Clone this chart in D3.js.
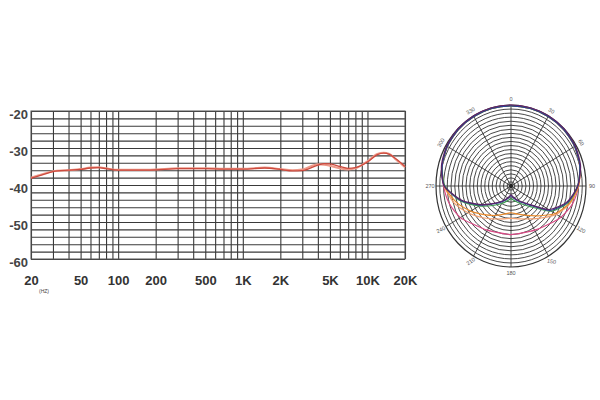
<!DOCTYPE html>
<html><head><meta charset="utf-8">
<script src="https://cdn.jsdelivr.net/npm/d3@7"></script>
<style>body{margin:0;background:#fff}svg{display:block}</style>
</head><body>
<svg id="c" width="600" height="400"></svg>
<script>
// ---- Frequency response data ----
const freqs = [20, 25, 30, 40, 50, 60, 70, 80, 100, 150, 200, 300, 500, 700, 1000, 1500, 2000, 2500, 3000, 4000, 4500, 5000, 6000, 7000, 8000, 10000, 12000, 13500, 15000, 17000, 20000];
const respA = [-38.2, -37.2, -36.4, -36.0, -35.8, -35.4, -35.3, -35.6, -36.0, -36.0, -35.9, -35.6, -35.6, -35.7, -35.7, -35.4, -35.8, -36.2, -36.1, -34.6, -34.2, -34.3, -35.0, -35.5, -35.3, -33.8, -31.8, -31.4, -31.7, -33.0, -35.0];
const respB = [-38.0, -37.0, -36.3, -36.0, -35.7, -35.3, -35.2, -35.5, -35.9, -35.9, -35.8, -35.5, -35.5, -35.6, -35.6, -35.3, -35.7, -36.0, -35.8, -34.4, -34.5, -34.8, -35.5, -35.8, -35.5, -33.6, -31.6, -31.3, -31.6, -33.2, -35.2];
const yTicks = [-20, -30, -40, -50, -60];
const xTicks = [20, 50, 100, 200, 500, 1000, 2000, 5000, 10000, 20000];
const xTickLabels = ["20", "50", "100", "200", "500", "1K", "2K", "5K", "10K", "20K"];
const xGrid = [20,30,40,50,60,70,80,90,100,200,300,400,500,600,700,800,900,1000,2000,3000,4000,5000,6000,7000,8000,9000,10000,20000];
const yGrid = d3.range(-60, -19, 2);

// ---- Polar pattern data (fraction of outer radius) ----
const polarAngles = [0,15,30,45,60,75,90,105,120,135,150,165,180,195,210,225,240,255,270,285,300,315,330,345];
const polarPurple = [1.0,1.0,1.0,1.0,0.99,0.96,0.89,0.77,0.58,0.31,0.21,0.15,0.11,0.15,0.21,0.30,0.46,0.68,0.89,0.96,0.99,1.0,1.0,1.0];
const polarBlue   = [0.99,0.99,0.99,0.99,0.98,0.95,0.89,0.78,0.60,0.32,0.22,0.16,0.12,0.16,0.22,0.31,0.47,0.69,0.89,0.95,0.98,0.99,0.99,0.99];
const polarGreen  = [0.99,0.99,0.99,0.99,0.98,0.95,0.89,0.79,0.62,0.36,0.25,0.19,0.16,0.19,0.25,0.34,0.49,0.70,0.88,0.95,0.98,0.99,0.99,0.99];
const polarOrange = [0.99,0.99,0.99,0.99,0.98,0.95,0.90,0.81,0.68,0.52,0.42,0.36,0.33,0.36,0.42,0.50,0.62,0.76,0.89,0.95,0.98,0.99,0.99,0.99];
const polarSalmon = [0.99,0.99,0.99,0.99,0.98,0.95,0.90,0.82,0.70,0.56,0.47,0.42,0.40,0.42,0.47,0.55,0.66,0.79,0.89,0.95,0.98,0.99,0.99,0.99];
const polarPink   = [0.995,0.995,0.995,0.99,0.98,0.95,0.90,0.85,0.77,0.68,0.63,0.60,0.60,0.60,0.63,0.68,0.78,0.85,0.90,0.95,0.98,0.99,0.995,0.995];
const polarLabels = ["0","30","60","90","120","150","180","210","240","270","300","330"];
const polarLabelRot = [0,30,60,0,30,10,0,-35,-25,0,-60,-30];

const svg = d3.select("#c");
const font = "'Liberation Sans', Arial, sans-serif";

// ---- Frequency chart ----
const x = d3.scaleLog().domain([20, 20000]).range([31, 405]);
const y = d3.scaleLinear().domain([-60, -20]).range([259, 111]);
const fr = svg.append("g");

fr.append("g").attr("transform", "translate(0,259)")
  .call(d3.axisBottom(x).tickValues(xGrid).tickSize(-148).tickFormat(""))
  .call(g => g.select(".domain").remove())
  .call(g => g.selectAll("line").attr("stroke", "#3a3a3a").attr("stroke-width", 1.1));
fr.append("g").attr("transform", "translate(31,0)")
  .call(d3.axisLeft(y).tickValues(yGrid).tickSize(-374).tickFormat(""))
  .call(g => g.select(".domain").remove())
  .call(g => g.selectAll("line").attr("stroke", "#3a3a3a").attr("stroke-width", 1.1));
fr.append("rect").attr("x", 31).attr("y", 111).attr("width", 374).attr("height", 148)
  .attr("fill", "none").attr("stroke", "#555").attr("stroke-width", 1);

fr.append("g").attr("transform", "translate(28,3)")
  .call(d3.axisLeft(y).tickValues(yTicks).tickSize(0).tickPadding(0).tickFormat(d => String(d)))
  .call(g => g.select(".domain").remove())
  .call(g => g.selectAll("text").attr("font-family", font).attr("font-size", 13).attr("font-weight", "bold").attr("fill", "#444"));
fr.append("g").attr("transform", "translate(0,276)")
  .call(d3.axisBottom(x).tickValues(xTicks).tickSize(0).tickPadding(0).tickFormat((d, i) => xTickLabels[i]))
  .call(g => g.select(".domain").remove())
  .call(g => g.selectAll("text").attr("font-family", font).attr("font-size", 13).attr("font-weight", "bold").attr("fill", "#333"));
fr.append("text").attr("x", 44).attr("y", 293).attr("font-family", font).attr("font-size", 5)
  .attr("text-anchor", "middle").attr("fill", "#444").text("(HZ)");

const line = d3.line().x((d, i) => x(freqs[i])).y(d => y(d)).curve(d3.curveMonotoneX);
fr.append("path").datum(respB).attr("d", line).attr("fill", "none").attr("stroke", "#ee9a8a").attr("stroke-width", 2);
fr.append("path").datum(respA).attr("d", line).attr("fill", "none").attr("stroke", "#cc4a3e").attr("stroke-width", 1.3);

// ---- Polar chart ----
const cx = 511, cy = 186, R = 75, ky = 81 / 75;
const r = d3.scaleLinear().domain([0, 1]).range([0, R]);
const pg = svg.append("g").attr("transform", `translate(${cx},${cy}) scale(1,${ky})`);
const rings = d3.range(1, 21).map(i => i / 20);
pg.selectAll("circle.ring").data(rings).join("circle").attr("class", "ring")
  .attr("r", d => r(d)).attr("fill", "none").attr("stroke", "#333")
  .attr("stroke-width", d => d === 1 ? 1.2 : 0.9).attr("vector-effect", "non-scaling-stroke");
const spokes = d3.range(0, 360, 30);
pg.selectAll("line.spoke").data(spokes).join("line").attr("class", "spoke")
  .attr("x1", 0).attr("y1", 0)
  .attr("x2", d => r(1) * Math.sin(d * Math.PI / 180))
  .attr("y2", d => -r(1) * Math.cos(d * Math.PI / 180))
  .attr("stroke", "#333").attr("stroke-width", 0.9).attr("vector-effect", "non-scaling-stroke");
pg.append("circle").attr("r", 2).attr("fill", "#222");

const radial = d3.lineRadial().angle((d, i) => polarAngles[i] * Math.PI / 180).radius(d => r(d)).curve(d3.curveCardinalClosed.tension(0.3));
const series = [
  [polarPink, "#d94a86"], [polarSalmon, "#f2a070"], [polarOrange, "#e88a2c"],
  [polarGreen, "#3d9a50"], [polarBlue, "#2c3f96"], [polarPurple, "#5a2566"]
];
series.forEach(([vals, col]) => {
  pg.append("path").datum(vals).attr("d", radial).attr("fill", "none")
    .attr("stroke", col).attr("stroke-width", 1.2).attr("vector-effect", "non-scaling-stroke");
});

svg.append("g").selectAll("text").data(polarLabels).join("text")
  .attr("transform", (d, i) => {
    const a = i * 30 * Math.PI / 180;
    const lx = cx + (R + 6) * Math.sin(a), ly = cy - (R * ky + 6) * Math.cos(a);
    return `translate(${lx},${ly}) rotate(${polarLabelRot[i]})`;
  })
  .attr("text-anchor", "middle").attr("dominant-baseline", "central")
  .attr("font-family", font).attr("font-size", 5.5).attr("fill", "#555").text(d => d);
</script>
</body></html>
